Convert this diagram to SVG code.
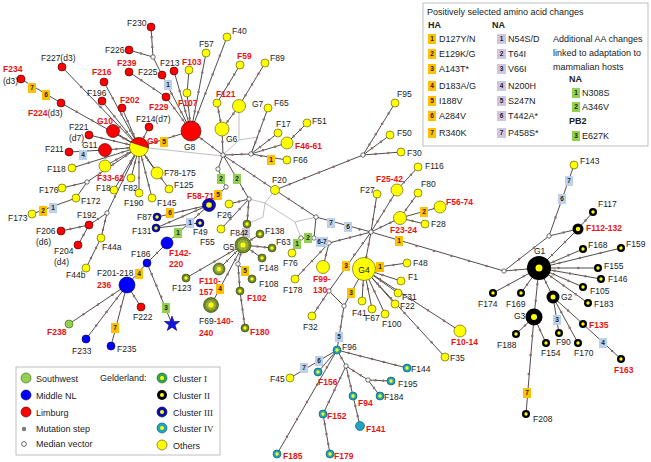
<svg xmlns="http://www.w3.org/2000/svg" width="651" height="462" viewBox="0 0 651 462">
<style>
text{font-family:"Liberation Sans",Arial,sans-serif;font-size:8.5px;fill:#1a1a1a}
.rl{fill:#ee1111;font-weight:bold}
.bold{font-weight:bold}
.ser{font-family:"Liberation Serif","Times New Roman",serif}
.e path{stroke:#3a3a3a;stroke-width:.9;fill:none}
.g path{stroke:#b8b8b8;stroke-width:.9;fill:none}
.m path{stroke:#8c6c62;stroke-width:2.5;stroke-linecap:round;stroke-dasharray:0 1;fill:none}
.y{fill:#ffff00;stroke:#4d4d00;stroke-width:.6}
.r{fill:#ff0000;stroke:#3d0000;stroke-width:.6}
.b{fill:#0000ff;stroke:#000050;stroke-width:.6}
.sw{fill:#92d050;stroke:#3a5a1a;stroke-width:.6}
.c1{fill:#6f8a27;stroke:#2f3a10;stroke-width:.6}
.c1m{fill:#9aad3c}
.c1l{fill:#2fa84a;stroke:#1a5a25;stroke-width:.6}
.c2{fill:#000}
.c3{fill:#0a0ab4;stroke:#000050;stroke-width:.6}
.c4{fill:#1ea5c3;stroke:#0a4a58;stroke-width:.6}
.ctr{fill:#ffff00}
.mv{fill:#fff;stroke:#333;stroke-width:.7}
.bo{fill:#ffc000}.bb{fill:#bdd0e9}.bg{fill:#92d050}.bp{fill:#cfc5df}
.bt{font-size:6.5px;font-weight:bold;text-anchor:middle;fill:#222}
.lt{font-size:9px;fill:#222}
</style>

<g id="connectors">
<g id="reticulations" class="g">
<path d="M139,147L223,156"/>
<path d="M239,112L239,140L223,155"/>
<path d="M239,140L258,137L251,154"/>
<path d="M275,190L265,203L249,199"/>
<path d="M265,203L263,217L247,224"/>
<path d="M265,203L295,222L316,217"/>
<path d="M295,222L301,238"/>
</g>
<g id="edges" class="e">
<path d="M151,27L153,57"/><path d="M129,50L153,57"/><path d="M153,57L162,75"/><path d="M162,75L191,131"/>
<path d="M174,71L191,131"/><path d="M189,70L187,93"/><path d="M187,93L191,131"/><path d="M129,72L166,97"/>
<path d="M166,97L191,131"/><path d="M206,53L191,131"/><path d="M227,37L191,131"/><path d="M191,131L139,147"/>
<path d="M191,131L223,155"/><path d="M62,67L139,147"/><path d="M104,82L139,147"/><path d="M102,101L139,147"/>
<path d="M122,108L139,147"/><path d="M149,127L139,147"/><path d="M113,131L139,147"/><path d="M89,135L139,147"/>
<path d="M21,79L61,103"/><path d="M61,103L139,147"/><path d="M69,152L105,150"/><path d="M105,150L139,147"/>
<path d="M72,168L139,147"/><path d="M105,166L139,147"/><path d="M62,188L87,182"/><path d="M87,182L139,147"/>
<path d="M76,198L87,182"/><path d="M32,214L76,198"/><path d="M114,190L139,147"/><path d="M131,178L139,147"/>
<path d="M139,193L139,147"/><path d="M152,198L139,147"/><path d="M157,173L139,147"/><path d="M169,189L139,147"/>
<path d="M139,147L107,213"/><path d="M107,213L89,225"/><path d="M89,225L61,231"/><path d="M89,225L78,245"/>
<path d="M107,213L101,238"/><path d="M101,238L86,268"/>
<path d="M217,103L222,129"/><path d="M240,65L217,103"/><path d="M239,106L222,129"/><path d="M265,63L239,106"/>
<path d="M222,129L223,155"/><path d="M223,155L251,154"/><path d="M251,154L268,108"/><path d="M251,154L278,133"/>
<path d="M251,154L287,143"/><path d="M287,143L307,123"/><path d="M251,154L287,160"/><path d="M223,155L275,190"/>
<path d="M275,190L363,155"/><path d="M363,155L395,103"/><path d="M363,155L390,135"/><path d="M363,155L401,152"/>
<path d="M223,155L218,169L226,187"/><path d="M226,187L209,205"/><path d="M223,155L249,199"/>
<path d="M249,199L229,204"/><path d="M249,199L221,229"/><path d="M249,199L247,224"/>
<path d="M157,217L209,205"/><path d="M156,228L209,205"/><path d="M156,228L200,223"/><path d="M167,243L209,205"/>
<path d="M167,243L147,263"/><path d="M147,263L127,285"/><path d="M147,263L172,324"/>
<path d="M127,285L69,324"/><path d="M127,285L86,339"/><path d="M127,285L111,346"/><path d="M127,285L141,307"/>
<path d="M247,224L243,245"/><path d="M260,234L243,245"/><path d="M272,248L243,245"/><path d="M262,258L243,245"/>
<path d="M243,245L238,264"/><path d="M238,264L252,279"/><path d="M238,264L240,291"/><path d="M240,291L245,328"/>
<path d="M243,245L219,269"/><path d="M243,245L211,305"/><path d="M243,245L186,278"/>
<path d="M275,190L316,217"/><path d="M316,217L371,232"/><path d="M316,217L314,238"/><path d="M314,238L301,238"/>
<path d="M301,238L292,253"/><path d="M314,238L329,243"/><path d="M329,243L371,232"/><path d="M329,243L295,279"/>
<path d="M329,243L323,267"/><path d="M371,232L377,194"/><path d="M371,232L397,190"/><path d="M397,190L418,167"/>
<path d="M371,232L400,218"/><path d="M400,218L418,193"/><path d="M400,218L440,207"/><path d="M400,218L425,224"/>
<path d="M371,232L504,271"/><path d="M371,232L364,269"/><path d="M364,269L407,263"/><path d="M364,269L401,281"/>
<path d="M364,269L398,293"/><path d="M364,269L395,304"/><path d="M364,269L362,301"/><path d="M364,269L372,309"/>
<path d="M364,269L385,314"/><path d="M364,269L460,331"/><path d="M364,269L445,357"/><path d="M371,232L329,291"/>
<path d="M329,291L312,316"/><path d="M329,291L344,306"/><path d="M364,269L344,306"/><path d="M344,306L337,350"/>
<path d="M337,350L290,378"/><path d="M337,350L318,372"/><path d="M337,350L277,454"/><path d="M337,350L346,366"/>
<path d="M346,366L323,414"/><path d="M323,414L330,454"/><path d="M346,366L353,396"/><path d="M353,396L360,426"/>
<path d="M346,366L368,380"/><path d="M368,380L391,381"/><path d="M368,380L380,396"/><path d="M337,350L407,368"/>
<path d="M504,271L539,268"/><path d="M504,271L549,236"/><path d="M549,236L574,165"/><path d="M549,236L578,229"/>
<path d="M539,268L578,229"/><path d="M578,229L593,212"/><path d="M539,268L583,249"/><path d="M539,268L621,248"/>
<path d="M539,268L598,268"/><path d="M539,268L601,279"/><path d="M539,268L583,287"/><path d="M539,268L588,303"/>
<path d="M539,268L553,297"/><path d="M539,268L493,293"/><path d="M539,268L521,293"/><path d="M539,268L534,317"/>
<path d="M534,317L516,334"/><path d="M534,317L546,343"/><path d="M534,317L526,414"/><path d="M553,297L559,333"/>
<path d="M553,297L578,343"/><path d="M553,297L583,324"/><path d="M583,324L621,359"/>
</g>
<g id="mutation-steps" class="m">
<path pathLength="3" d="M151,27L153,57"/><path pathLength="2" d="M129,50L153,57"/><path pathLength="3" d="M162,75L191,131"/>
<path pathLength="3" d="M174,71L191,131"/><path pathLength="3" d="M187,93L191,131"/><path pathLength="3" d="M129,72L166,97"/>
<path pathLength="3" d="M166,97L191,131"/><path pathLength="4" d="M206,53L191,131"/><path pathLength="5" d="M227,37L191,131"/>
<path pathLength="3" d="M191,131L139,147"/><path pathLength="3" d="M191,131L223,155"/><path pathLength="4" d="M62,67L139,147"/>
<path pathLength="4" d="M104,82L139,147"/><path pathLength="3" d="M102,101L139,147"/><path pathLength="3" d="M122,108L139,147"/>
<path pathLength="2" d="M149,127L139,147"/><path pathLength="2" d="M113,131L139,147"/><path pathLength="4" d="M89,135L139,147"/>
<path pathLength="5" d="M61,103L139,147"/><path pathLength="3" d="M105,150L139,147"/><path pathLength="4" d="M72,168L139,147"/>
<path pathLength="3" d="M105,166L139,147"/><path pathLength="2" d="M62,188L87,182"/><path pathLength="4" d="M87,182L139,147"/>
<path pathLength="3" d="M114,190L139,147"/><path pathLength="2" d="M131,178L139,147"/><path pathLength="3" d="M139,193L139,147"/>
<path pathLength="4" d="M152,198L139,147"/><path pathLength="2" d="M157,173L139,147"/><path pathLength="4" d="M169,189L139,147"/>
<path pathLength="4" d="M139,147L107,213"/><path pathLength="2" d="M107,213L89,225"/><path pathLength="3" d="M89,225L61,231"/>
<path pathLength="2" d="M89,225L78,245"/><path pathLength="3" d="M107,213L101,238"/><path pathLength="3" d="M101,238L86,268"/>
<path pathLength="3" d="M217,103L222,129"/><path pathLength="4" d="M240,65L217,103"/><path pathLength="3" d="M239,106L222,129"/>
<path pathLength="4" d="M265,63L239,106"/><path pathLength="2" d="M222,129L223,155"/><path pathLength="3" d="M223,155L251,154"/>
<path pathLength="4" d="M251,154L268,108"/><path pathLength="3" d="M251,154L278,133"/><path pathLength="3" d="M251,154L287,143"/>
<path pathLength="3" d="M287,143L307,123"/><path pathLength="2" d="M251,154L271,158"/><path pathLength="5" d="M223,155L275,190"/>
<path pathLength="6" d="M275,190L363,155"/><path pathLength="5" d="M363,155L395,103"/><path pathLength="3" d="M363,155L390,135"/>
<path pathLength="3" d="M363,155L401,152"/><path pathLength="2" d="M237,179L249,199"/><path pathLength="2" d="M249,199L229,204"/>
<path pathLength="3" d="M249,199L221,229"/><path pathLength="3" d="M249,199L247,224"/><path pathLength="3" d="M170,214L209,205"/>
<path pathLength="4" d="M156,228L209,205"/><path pathLength="3" d="M178,233L209,205"/><path pathLength="2" d="M167,243L147,263"/>
<path pathLength="4" d="M147,263L166,308"/><path pathLength="4" d="M127,285L69,324"/><path pathLength="4" d="M127,285L86,339"/>
<path pathLength="2" d="M127,285L115,328"/><path pathLength="2" d="M127,285L141,307"/>
<path pathLength="2" d="M260,234L243,245"/><path pathLength="4" d="M272,248L243,245"/><path pathLength="2" d="M262,258L243,245"/>
<path pathLength="2" d="M243,245L238,264"/><path pathLength="3" d="M238,264L240,291"/><path pathLength="4" d="M240,291L245,328"/>
<path pathLength="3" d="M243,245L219,269"/><path pathLength="3" d="M243,245L220,289"/><path pathLength="4" d="M243,245L186,278"/>
<path pathLength="3" d="M275,190L316,217"/><path pathLength="2" d="M348,227L371,232"/><path pathLength="4" d="M329,243L371,232"/>
<path pathLength="4" d="M329,243L295,279"/><path pathLength="2" d="M329,243L323,267"/><path pathLength="3" d="M371,232L377,194"/>
<path pathLength="4" d="M371,232L397,190"/><path pathLength="3" d="M397,190L418,167"/><path pathLength="3" d="M371,232L400,218"/>
<path pathLength="3" d="M400,218L418,193"/><path pathLength="2" d="M400,218L425,224"/><path pathLength="6" d="M399,241L504,271"/>
<path pathLength="3" d="M371,232L364,269"/><path pathLength="2" d="M380,267L407,263"/><path pathLength="2" d="M364,269L401,281"/>
<path pathLength="2" d="M364,269L398,293"/><path pathLength="2" d="M364,269L395,304"/><path pathLength="2" d="M364,269L362,301"/>
<path pathLength="2" d="M364,269L372,309"/><path pathLength="2" d="M364,269L385,314"/><path pathLength="6" d="M364,269L460,331"/>
<path pathLength="6" d="M364,269L445,357"/><path pathLength="3" d="M371,232L346,266"/><path pathLength="3" d="M329,291L312,316"/>
<path pathLength="3" d="M344,306L339,337"/><path pathLength="6" d="M337,350L277,454"/><path pathLength="2" d="M337,350L346,366"/>
<path pathLength="4" d="M346,366L323,414"/><path pathLength="4" d="M323,414L330,454"/><path pathLength="3" d="M346,366L353,396"/>
<path pathLength="3" d="M353,396L360,426"/><path pathLength="3" d="M346,366L368,380"/><path pathLength="3" d="M368,380L391,381"/>
<path pathLength="2" d="M368,380L380,396"/><path pathLength="6" d="M337,350L407,368"/>
<path pathLength="3" d="M504,271L539,268"/><path pathLength="3" d="M504,271L549,236"/><path pathLength="2" d="M549,236L562,199"/>
<path pathLength="2" d="M549,236L578,229"/><path pathLength="3" d="M539,268L578,229"/><path pathLength="2" d="M578,229L593,212"/>
<path pathLength="3" d="M539,268L583,249"/><path pathLength="4" d="M539,268L621,248"/><path pathLength="3" d="M539,268L598,268"/>
<path pathLength="4" d="M539,268L601,279"/><path pathLength="3" d="M539,268L583,287"/><path pathLength="4" d="M539,268L588,303"/>
<path pathLength="2" d="M539,268L553,297"/><path pathLength="3" d="M539,268L493,293"/><path pathLength="3" d="M539,268L521,293"/>
<path pathLength="3" d="M539,268L534,317"/><path pathLength="2" d="M534,317L516,334"/><path pathLength="2" d="M534,317L546,343"/>
<path pathLength="4" d="M534,317L527,393"/><path pathLength="3" d="M553,297L578,343"/><path pathLength="2" d="M553,297L583,324"/>
<path pathLength="2" d="M603,343L621,359"/>
</g>
</g>

<g id="median-vectors">
<circle class="mv" cx="153" cy="57" r="2.2"/><circle class="mv" cx="87" cy="182" r="2.2"/><circle class="mv" cx="107" cy="213" r="2.2"/>
<circle class="mv" cx="223" cy="155" r="2.2"/><circle class="mv" cx="251" cy="154" r="2.2"/><circle class="mv" cx="363" cy="155" r="2.2"/>
<circle class="mv" cx="218" cy="169" r="2.2"/><circle class="mv" cx="226" cy="187" r="2.2"/><circle class="mv" cx="249" cy="199" r="2.2"/>
<circle class="mv" cx="238" cy="264" r="2.2"/><circle class="mv" cx="316" cy="217" r="2.2"/><circle class="mv" cx="301" cy="238" r="2.2"/>
<circle class="mv" cx="314" cy="238" r="2.2"/><circle class="mv" cx="329" cy="243" r="2.2"/><circle class="mv" cx="371" cy="232" r="2.2"/>
<circle class="mv" cx="329" cy="291" r="2.2"/><circle class="mv" cx="344" cy="306" r="2.2"/><circle class="mv" cx="346" cy="366" r="2.2"/>
<circle class="mv" cx="368" cy="380" r="2.2"/><circle class="mv" cx="504" cy="271" r="2.2"/><circle class="mv" cx="549" cy="236" r="2.2"/>
</g>

<g id="mutation-labels">
<rect class="bo" x="160" y="137" width="8" height="10"/><text class="bt" x="164" y="144.3">5</text>
<rect class="bo" x="28" y="83" width="8" height="10"/><text class="bt" x="32" y="90.3">7</text>
<rect class="bo" x="42" y="90" width="8" height="10"/><text class="bt" x="46" y="97.3">6</text>
<rect class="bo" x="39" y="206" width="8" height="10"/><text class="bt" x="43" y="213.3">2</text>
<rect class="bo" x="267" y="155" width="8" height="10"/><text class="bt" x="271" y="162.3">1</text>
<rect class="bo" x="214" y="190" width="8" height="10"/><text class="bt" x="218" y="197.3">5</text>
<rect class="bo" x="166" y="208" width="8" height="10"/><text class="bt" x="170" y="215.3">6</text>
<rect class="bo" x="135" y="269" width="8" height="10"/><text class="bt" x="139" y="276.3">4</text>
<rect class="bo" x="111" y="323" width="8" height="10"/><text class="bt" x="115" y="330.3">7</text>
<rect class="bo" x="241" y="266" width="8" height="10"/><text class="bt" x="245" y="273.3">5</text>
<rect class="bo" x="216" y="284" width="8" height="10"/><text class="bt" x="220" y="291.3">4</text>
<rect class="bo" x="420" y="207" width="8" height="10"/><text class="bt" x="424" y="214.3">2</text>
<rect class="bo" x="395" y="236" width="8" height="10"/><text class="bt" x="399" y="243.3">1</text>
<rect class="bo" x="342" y="261" width="8" height="10"/><text class="bt" x="346" y="268.3">3</text>
<rect class="bo" x="376" y="262" width="8" height="10"/><text class="bt" x="380" y="269.3">1</text>
<rect class="bo" x="347" y="288" width="8" height="10"/><text class="bt" x="351" y="295.3">3</text>
<rect class="bo" x="523" y="388" width="8" height="10"/><text class="bt" x="527" y="395.3">7</text>
<rect class="bb" x="164" y="80" width="8" height="10"/><text class="bt" x="168" y="87.3">1</text>
<rect class="bb" x="79" y="150" width="8" height="10"/><text class="bt" x="83" y="157.3">4</text>
<rect class="bb" x="49" y="203" width="8" height="10"/><text class="bt" x="53" y="210.3">1</text>
<rect class="bb" x="186" y="218" width="8" height="10"/><text class="bt" x="190" y="225.3">1</text>
<rect class="bb" x="327" y="218" width="8" height="10"/><text class="bt" x="331" y="225.3">7</text>
<rect class="bb" x="344" y="222" width="8" height="10"/><text class="bt" x="348" y="229.3">6</text>
<rect class="bb" x="316" y="237" width="12" height="10"/><text class="bt" x="322" y="244.3">6-7</text>
<rect class="bb" x="335" y="332" width="8" height="10"/><text class="bt" x="339" y="339.3">5</text>
<rect class="bb" x="315" y="356" width="8" height="10"/><text class="bt" x="319" y="363.3">6</text>
<rect class="bb" x="300" y="363" width="8" height="10"/><text class="bt" x="304" y="370.3">7</text>
<rect class="bb" x="558" y="194" width="8" height="10"/><text class="bt" x="562" y="201.3">6</text>
<rect class="bb" x="565" y="176" width="8" height="10"/><text class="bt" x="569" y="183.3">7</text>
<rect class="bb" x="553" y="315" width="8" height="10"/><text class="bt" x="557" y="322.3">3</text>
<rect class="bb" x="599" y="338" width="8" height="10"/><text class="bt" x="603" y="345.3">4</text>
<rect class="bg" x="217" y="174" width="8" height="10"/><text class="bt" x="221" y="181.3">2</text>
<rect class="bg" x="233" y="174" width="8" height="10"/><text class="bt" x="237" y="181.3">2</text>
<rect class="bg" x="174" y="228" width="8" height="10"/><text class="bt" x="178" y="235.3">1</text>
<rect class="bg" x="162" y="303" width="8" height="10"/><text class="bt" x="166" y="310.3">3</text>
<rect class="bg" x="293" y="239" width="8" height="10"/><text class="bt" x="297" y="246.3">1</text>
<rect class="bg" x="304" y="233" width="8" height="10"/><text class="bt" x="308" y="240.3">2</text>
<rect class="bp" x="242" y="228" width="8" height="10"/><text class="bt" x="246" y="235.3">2</text>
</g>

<g id="nodes">
<g id="F230"><circle class="r" cx="151" cy="27" r="4"/><text x="127" y="26">F230</text></g>
<g id="F226"><circle class="r" cx="129" cy="50" r="4"/><text x="105" y="53">F226</text></g>
<g id="F225"><circle class="r" cx="162" cy="75" r="4"/><text x="138" y="75">F225</text></g>
<g id="F213"><circle class="r" cx="174" cy="71" r="4"/><text x="160" y="66">F213</text></g>
<g id="F239"><circle class="r" cx="129" cy="72" r="4"/><text class="rl" x="117" y="66">F239</text></g>
<g id="F229"><circle class="r" cx="166" cy="97" r="4"/><text class="rl" x="149" y="110">F229</text></g>
<g id="F103"><circle class="y" cx="189" cy="70" r="4"/><text class="rl" x="182" y="65">F103</text></g>
<g id="F107"><circle class="y" cx="187" cy="93" r="4"/><text class="rl" x="178" y="106">F107</text></g>
<g id="F57"><circle class="y" cx="206" cy="53" r="4"/><text x="199" y="47">F57</text></g>
<g id="F40"><circle class="y" cx="227" cy="37" r="4"/><text x="232" y="34">F40</text></g>
<g id="G8"><circle class="r" cx="191" cy="131" r="10"/><text x="184" y="150">G8</text></g>
<g id="G9"><circle class="y" cx="139" cy="147" r="9.5"/><path d="M130.8,142.2A9.5,9.5 0 0 1 148.4,148Z" fill="#ff0000" stroke="#3d0000" stroke-width=".5"/><text class="rl" x="147" y="144">G9</text></g>
<g id="G10"><circle class="r" cx="113" cy="131" r="6.5"/><text class="rl" x="97" y="124">G10</text></g>
<g id="F202"><circle class="r" cx="122" cy="108" r="4"/><text class="rl" x="120" y="103">F202</text></g>
<g id="F216"><circle class="r" cx="104" cy="82" r="4"/><text class="rl" x="92" y="75">F216</text></g>
<g id="F196"><circle class="r" cx="102" cy="101" r="4"/><text x="87" y="96">F196</text></g>
<g id="F227"><circle class="r" cx="62" cy="67" r="4"/><text x="41" y="61">F227(d3)</text></g>
<g id="F234"><circle class="r" cx="21" cy="79" r="4"/><text class="rl" x="3" y="72">F234</text><text x="3" y="84">(d3)</text></g>
<g id="F224"><circle class="r" cx="61" cy="103" r="4"/><text x="28" y="116"><tspan class="rl">F224</tspan>(d3)</text></g>
<g id="F214"><circle class="r" cx="149" cy="127" r="4"/><text x="136" y="122">F214(d7)</text></g>
<g id="F221"><circle class="r" cx="89" cy="135" r="4"/><text x="69" y="130">F221</text><text x="69" y="141">(d7)</text></g>
<g id="G11"><circle class="r" cx="105" cy="150" r="6.5"/><text x="82" y="148">G11</text></g>
<g id="F211"><circle class="r" cx="69" cy="152" r="4"/><text x="45" y="152">F211</text></g>
<g id="F118"><circle class="y" cx="72" cy="168" r="4"/><text x="47" y="172">F118</text></g>
<g id="F33-62"><circle class="y" cx="105" cy="166" r="6"/><text class="rl" x="97" y="181">F33-62</text></g>
<g id="F176"><circle class="y" cx="62" cy="188" r="4"/><text x="39" y="193">F176</text></g>
<g id="F172"><circle class="y" cx="76" cy="198" r="4"/><text x="81" y="204">F172</text></g>
<g id="F173"><circle class="y" cx="32" cy="214" r="4"/><text x="8" y="221">F173</text></g>
<g id="F18"><circle class="y" cx="114" cy="190" r="4"/><text x="96" y="191">F18</text></g>
<g id="F82"><circle class="y" cx="131" cy="178" r="4"/><text x="123" y="191">F82</text></g>
<g id="F190"><circle class="y" cx="139" cy="193" r="4"/><text x="124" y="206">F190</text></g>
<g id="F145"><circle class="y" cx="152" cy="198" r="4"/><text x="157" y="206">F145</text></g>
<g id="F78-175"><circle class="y" cx="157" cy="173" r="6"/><text x="164" y="176">F78-175</text></g>
<g id="F125"><circle class="y" cx="169" cy="189" r="4"/><text x="174" y="188">F125</text></g>
<g id="F192"><circle class="r" cx="89" cy="225" r="4"/><text x="77" y="218">F192</text></g>
<g id="F206"><circle class="r" cx="61" cy="231" r="4"/><text x="36" y="234">F206</text><text x="36" y="245">(d6)</text></g>
<g id="F204"><circle class="r" cx="78" cy="245" r="4"/><text x="54" y="254">F204</text><text x="54" y="265">(d4)</text></g>
<g id="F44a"><circle class="y" cx="101" cy="238" r="4"/><text x="102" y="250">F44a</text></g>
<g id="F44b"><circle class="y" cx="86" cy="268" r="4"/><text x="66" y="278">F44b</text></g>
<g id="F59"><circle class="y" cx="240" cy="65" r="4"/><text class="rl" x="237" y="59">F59</text></g>
<g id="F89"><circle class="y" cx="265" cy="63" r="4"/><text x="270" y="61">F89</text></g>
<g id="F121"><circle class="y" cx="217" cy="103" r="4"/><text class="rl" x="216" y="97">F121</text></g>
<g id="G7"><circle class="y" cx="239" cy="106" r="6.5"/><text x="252" y="107">G7</text></g>
<g id="F65"><circle class="y" cx="268" cy="108" r="4"/><text x="274" y="106">F65</text></g>
<g id="G6"><circle class="y" cx="222" cy="129" r="7"/><text x="226" y="142">G6</text></g>
<g id="F17"><circle class="y" cx="278" cy="133" r="4"/><text x="276" y="127">F17</text></g>
<g id="F51"><circle class="y" cx="307" cy="123" r="4"/><text x="312" y="124">F51</text></g>
<g id="F46-61"><circle class="y" cx="287" cy="143" r="6"/><text class="rl" x="295" y="149">F46-61</text></g>
<g id="F66"><circle class="y" cx="287" cy="160" r="4"/><text x="293" y="163">F66</text></g>
<g id="F95"><circle class="y" cx="395" cy="103" r="4"/><text x="397" y="97">F95</text></g>
<g id="F50"><circle class="y" cx="390" cy="135" r="4"/><text x="397" y="136">F50</text></g>
<g id="F30"><circle class="y" cx="401" cy="152" r="4"/><text x="407" y="156">F30</text></g>
<g id="F20"><circle class="y" cx="275" cy="190" r="4.5"/><text x="272" y="183">F20</text></g>
<g id="F58-71"><circle class="c3" cx="209" cy="205" r="6.5"/><circle class="ctr" cx="209" cy="205" r="2.8"/><text class="rl" x="187" y="199">F58-71</text></g>
<g id="F87"><circle class="c3" cx="157" cy="217" r="4"/><circle class="ctr" cx="157" cy="217" r="1.7"/><text x="137" y="220">F87</text></g>
<g id="F131"><circle class="c3" cx="156" cy="228" r="4"/><circle class="ctr" cx="156" cy="228" r="1.7"/><text x="132" y="234">F131</text></g>
<g id="F49"><circle class="c3" cx="200" cy="223" r="4"/><circle class="ctr" cx="200" cy="223" r="1.7"/><text x="193" y="235">F49</text></g>
<g id="F55"><circle class="y" cx="221" cy="229" r="4"/><text x="200" y="245">F55</text></g>
<g id="F26"><circle class="y" cx="229" cy="204" r="4"/><text x="217" y="218">F26</text></g>
<g id="F142-220"><circle class="b" cx="167" cy="243" r="6"/><text class="rl" x="169" y="256">F142-</text><text class="rl" x="169" y="267">220</text></g>
<g id="F186"><circle class="b" cx="147" cy="263" r="4"/><text x="131" y="257">F186</text></g>
<g id="F201-218"><circle class="b" cx="127" cy="285" r="8"/><text x="97" y="276">F201-218</text><text class="rl" x="97" y="288">236</text></g>
<g id="F238"><circle class="sw" cx="69" cy="324" r="4"/><text class="rl" x="47" y="335">F238</text></g>
<g id="F233"><circle class="b" cx="86" cy="339" r="4"/><text x="72" y="354">F233</text></g>
<g id="F235"><circle class="b" cx="111" cy="346" r="4"/><text x="117" y="352">F235</text></g>
<g id="F222"><circle class="r" cx="141" cy="307" r="4"/><text x="133" y="320">F222</text></g>
<g id="star"><polygon points="172,316 173.9,321.4 179.6,321.5 175,325 176.7,330.5 172,327.2 167.3,330.5 169,325 164.4,321.5 170.1,321.4" fill="#1515e0" stroke="#000060" stroke-width=".6"/></g>
<g id="F84"><circle class="c1" cx="247" cy="224" r="4"/><circle class="ctr" cx="247" cy="224" r="1.7"/><text x="230" y="236">F84</text></g>
<g id="F138"><circle class="c1" cx="260" cy="234" r="4"/><circle class="ctr" cx="260" cy="234" r="1.7"/><text x="265" y="234">F138</text></g>
<g id="G5"><circle class="c1" cx="243" cy="245" r="8"/><circle class="c1m" cx="243" cy="245" r="5.5"/><circle class="ctr" cx="243" cy="245" r="2.6"/><text x="223" y="250">G5</text></g>
<g id="F63"><circle class="c1" cx="272" cy="248" r="4"/><circle class="ctr" cx="272" cy="248" r="1.7"/><text x="276" y="245">F63</text></g>
<g id="F148"><circle class="c1" cx="262" cy="258" r="4"/><circle class="ctr" cx="262" cy="258" r="1.7"/><text x="259" y="271">F148</text></g>
<g id="F108"><circle class="c1" cx="252" cy="279" r="4"/><circle class="ctr" cx="252" cy="279" r="1.7"/><text x="259" y="287">F108</text></g>
<g id="F102"><circle class="c1" cx="240" cy="291" r="4"/><circle class="ctr" cx="240" cy="291" r="1.7"/><text class="rl" x="247" y="301">F102</text></g>
<g id="F180"><circle class="c1" cx="245" cy="328" r="4"/><circle class="ctr" cx="245" cy="328" r="1.7"/><text class="rl" x="250" y="335">F180</text></g>
<g id="F110-157"><circle class="c1" cx="219" cy="269" r="6"/><circle class="c1m" cx="219" cy="269" r="4"/><circle class="ctr" cx="219" cy="269" r="2.2"/><text class="rl" x="199" y="284">F110-</text><text class="rl" x="199" y="295">157</text></g>
<g id="F69-140-240"><circle class="c1" cx="211" cy="305" r="7.5"/><circle class="c1m" cx="211" cy="305" r="5"/><circle class="ctr" cx="211" cy="305" r="2.6"/><text x="199" y="324">F69-<tspan class="rl">140-</tspan></text><text class="rl" x="199" y="336">240</text></g>
<g id="F123"><circle class="c1" cx="186" cy="278" r="4"/><circle class="ctr" cx="186" cy="278" r="1.7"/><text x="172" y="291">F123</text></g>
<g id="F76"><circle class="y" cx="292" cy="253" r="4"/><text x="283" y="266">F76</text></g>
<g id="F178"><circle class="y" cx="295" cy="279" r="4"/><text x="283" y="293">F178</text></g>
<g id="F99-130"><circle class="y" cx="323" cy="267" r="6.5"/><text class="rl" x="313" y="282">F99-</text><text class="rl" x="313" y="293">130</text></g>
<g id="F27"><circle class="y" cx="377" cy="194" r="4"/><text x="360" y="193">F27</text></g>
<g id="F25-42"><circle class="y" cx="397" cy="190" r="6"/><text class="rl" x="376" y="182">F25-42</text></g>
<g id="F23-24"><circle class="y" cx="400" cy="218" r="6.5"/><text class="rl" x="390" y="233">F23-24</text></g>
<g id="F116"><circle class="y" cx="418" cy="167" r="4"/><text x="425" y="169">F116</text></g>
<g id="F80"><circle class="y" cx="418" cy="193" r="4"/><text x="421" y="187">F80</text></g>
<g id="F56-74"><circle class="y" cx="440" cy="207" r="6"/><text class="rl" x="446" y="205">F56-74</text></g>
<g id="F28"><circle class="y" cx="425" cy="224" r="4"/><text x="431" y="227">F28</text></g>
<g id="G4"><circle class="y" cx="364" cy="269" r="11.5"/><text x="364" y="273" text-anchor="middle" font-size="10">G4</text></g>
<g id="F48"><circle class="y" cx="407" cy="263" r="4"/><text x="413" y="266">F48</text></g>
<g id="F1"><circle class="y" cx="401" cy="281" r="4"/><text x="408" y="280">F1</text></g>
<g id="F31"><circle class="y" cx="398" cy="293" r="4"/><text x="402" y="300">F31</text></g>
<g id="F22"><circle class="y" cx="395" cy="304" r="4"/><text x="400" y="309">F22</text></g>
<g id="F41"><circle class="y" cx="362" cy="301" r="4"/><text x="352" y="316">F41</text></g>
<g id="F67"><circle class="y" cx="372" cy="309" r="4"/><text x="365" y="321">F67</text></g>
<g id="F100"><circle class="y" cx="385" cy="314" r="4"/><text x="382" y="327">F100</text></g>
<g id="F10-14"><circle class="y" cx="460" cy="331" r="6"/><text class="rl" x="451" y="345">F10-14</text></g>
<g id="F35"><circle class="y" cx="445" cy="357" r="4"/><text x="450" y="361">F35</text></g>
<g id="F32"><circle class="y" cx="312" cy="316" r="4"/><text x="303" y="330">F32</text></g>
<g id="F45"><circle class="y" cx="290" cy="378" r="4"/><text x="270" y="382">F45</text></g>
<g id="F96"><circle class="c4" cx="337" cy="350" r="4"/><circle class="ctr" cx="337" cy="350" r="1.7"/><text x="342" y="350">F96</text></g>
<g id="F156"><circle class="c4" cx="318" cy="372" r="4"/><circle class="ctr" cx="318" cy="372" r="1.7"/><text class="rl" x="318" y="385">F156</text></g>
<g id="F144"><circle class="c4" cx="407" cy="368" r="4"/><circle class="ctr" cx="407" cy="368" r="1.7"/><text x="411" y="372">F144</text></g>
<g id="F195"><circle class="c4" cx="391" cy="381" r="4"/><circle class="ctr" cx="391" cy="381" r="1.7"/><text x="398" y="387">F195</text></g>
<g id="F184"><circle class="c4" cx="380" cy="396" r="4"/><circle class="ctr" cx="380" cy="396" r="1.7"/><text x="384" y="400">F184</text></g>
<g id="F94"><circle class="c4" cx="353" cy="396" r="4"/><circle class="ctr" cx="353" cy="396" r="1.7"/><text class="rl" x="358" y="406">F94</text></g>
<g id="F141"><circle class="c4" cx="360" cy="426" r="4.5"/><text class="rl" x="366" y="432">F141</text></g>
<g id="F152"><circle class="c4" cx="323" cy="414" r="4"/><circle class="ctr" cx="323" cy="414" r="1.7"/><text class="rl" x="327" y="419">F152</text></g>
<g id="F185"><circle class="c4" cx="277" cy="454" r="4"/><circle class="ctr" cx="277" cy="454" r="1.7"/><text class="rl" x="283" y="459">F185</text></g>
<g id="F179"><circle class="c4" cx="330" cy="454" r="4"/><circle class="ctr" cx="330" cy="454" r="1.7"/><text class="rl" x="334" y="459">F179</text></g>
<g id="F143"><circle class="y" cx="574" cy="165" r="4"/><text x="580" y="164">F143</text></g>
<g id="G1"><circle class="c2" cx="539" cy="268" r="12"/><circle class="ctr" cx="539" cy="268" r="3.5"/><text x="534" y="254">G1</text></g>
<g id="F117"><circle class="c2" cx="593" cy="212" r="4"/><circle class="ctr" cx="593" cy="212" r="1.7"/><text x="598" y="207">F117</text></g>
<g id="F112-132"><circle class="c2" cx="578" cy="229" r="5.5"/><circle class="ctr" cx="578" cy="229" r="2.2"/><text class="rl" x="586" y="231">F112-132</text></g>
<g id="F168"><circle class="c2" cx="583" cy="249" r="4"/><circle class="ctr" cx="583" cy="249" r="1.7"/><text x="588" y="248">F168</text></g>
<g id="F159"><circle class="c2" cx="621" cy="248" r="4"/><circle class="ctr" cx="621" cy="248" r="1.7"/><text x="626" y="247">F159</text></g>
<g id="F155"><circle class="c2" cx="598" cy="268" r="4"/><circle class="ctr" cx="598" cy="268" r="1.7"/><text x="604" y="269">F155</text></g>
<g id="F146"><circle class="c2" cx="601" cy="279" r="4"/><circle class="ctr" cx="601" cy="279" r="1.7"/><text x="608" y="282">F146</text></g>
<g id="F105"><circle class="c2" cx="583" cy="287" r="4"/><circle class="ctr" cx="583" cy="287" r="1.7"/><text x="590" y="294">F105</text></g>
<g id="F183"><circle class="c2" cx="588" cy="303" r="4"/><circle class="ctr" cx="588" cy="303" r="1.7"/><text x="594" y="307">F183</text></g>
<g id="G2"><circle class="c2" cx="553" cy="297" r="6.5"/><circle class="ctr" cx="553" cy="297" r="2.5"/><text x="561" y="300">G2</text></g>
<g id="F174"><circle class="c2" cx="493" cy="293" r="4"/><circle class="ctr" cx="493" cy="293" r="1.7"/><text x="478" y="307">F174</text></g>
<g id="F169"><circle class="c2" cx="521" cy="293" r="4"/><circle class="ctr" cx="521" cy="293" r="1.7"/><text x="506" y="307">F169</text></g>
<g id="G3"><circle class="c2" cx="534" cy="317" r="8.5"/><circle class="ctr" cx="534" cy="317" r="3"/><text x="514" y="319">G3</text></g>
<g id="F188"><circle class="c2" cx="516" cy="334" r="4"/><circle class="ctr" cx="516" cy="334" r="1.7"/><text x="497" y="348">F188</text></g>
<g id="F90"><circle class="c2" cx="559" cy="333" r="4"/><circle class="ctr" cx="559" cy="333" r="1.7"/><text x="556" y="345">F90</text></g>
<g id="F154"><circle class="c2" cx="546" cy="343" r="4"/><circle class="ctr" cx="546" cy="343" r="1.7"/><text x="541" y="356">F154</text></g>
<g id="F170"><circle class="c2" cx="578" cy="343" r="4"/><circle class="ctr" cx="578" cy="343" r="1.7"/><text x="574" y="356">F170</text></g>
<g id="F135"><circle class="c2" cx="583" cy="324" r="4"/><circle class="ctr" cx="583" cy="324" r="1.7"/><text class="rl" x="589" y="328">F135</text></g>
<g id="F163"><circle class="c2" cx="621" cy="359" r="4"/><circle class="ctr" cx="621" cy="359" r="1.7"/><text class="rl" x="614" y="373">F163</text></g>
<g id="F208"><circle class="c2" cx="526" cy="414" r="4"/><circle class="ctr" cx="526" cy="414" r="1.7"/><text x="533" y="422">F208</text></g>
</g>

<g id="legend-aa">
<rect x="423" y="3" width="225" height="143" fill="#fff" stroke="#b0b0b0" stroke-width=".8"/>
<text class="lt" x="427" y="15" font-size="8.5">Positively selected  amino acid changes</text>
<text class="lt bold" x="428" y="28">HA</text><text class="lt bold" x="492" y="28">NA</text>
<rect class="bo" x="428" y="34" width="8" height="10"/><text class="bt" x="432" y="41.3">1</text><text class="lt" x="439" y="42">D127Y/N</text>
<rect class="bo" x="428" y="49" width="8" height="10"/><text class="bt" x="432" y="56.3">2</text><text class="lt" x="439" y="57">E129K/G</text>
<rect class="bo" x="428" y="64" width="8" height="10"/><text class="bt" x="432" y="71.3">3</text><text class="lt" x="439" y="72">A143T*</text>
<rect class="bo" x="428" y="81" width="8" height="10"/><text class="bt" x="432" y="88.3">4</text><text class="lt" x="439" y="89">D183A/G</text>
<rect class="bo" x="428" y="96" width="8" height="10"/><text class="bt" x="432" y="103.3">5</text><text class="lt" x="439" y="104">I188V</text>
<rect class="bo" x="428" y="111" width="8" height="10"/><text class="bt" x="432" y="118.3">6</text><text class="lt" x="439" y="119">A284V</text>
<rect class="bo" x="428" y="128" width="8" height="10"/><text class="bt" x="432" y="135.3">7</text><text class="lt" x="439" y="136">R340K</text>
<rect class="bp" x="497" y="34" width="9" height="10"/><text class="bt" x="501.5" y="41.3">1</text><text class="lt" x="508" y="42">N54S/D</text>
<rect class="bp" x="497" y="49" width="9" height="10"/><text class="bt" x="501.5" y="56.3">2</text><text class="lt" x="508" y="57">T64I</text>
<rect class="bp" x="497" y="64" width="9" height="10"/><text class="bt" x="501.5" y="71.3">3</text><text class="lt" x="508" y="72">V66I</text>
<rect class="bp" x="497" y="81" width="9" height="10"/><text class="bt" x="501.5" y="88.3">4</text><text class="lt" x="508" y="89">N200H</text>
<rect class="bp" x="497" y="96" width="9" height="10"/><text class="bt" x="501.5" y="103.3">5</text><text class="lt" x="508" y="104">S247N</text>
<rect class="bp" x="497" y="111" width="9" height="10"/><text class="bt" x="501.5" y="118.3">6</text><text class="lt" x="508" y="119">T442A*</text>
<rect class="bp" x="497" y="128" width="9" height="10"/><text class="bt" x="501.5" y="135.3">7</text><text class="lt" x="508" y="136">P458S*</text>
<text class="lt" x="553" y="42" font-size="8.5">Additional AA changes</text>
<text class="lt" x="553" y="56" font-size="8.5">linked to  adaptation to</text>
<text class="lt" x="553" y="70" font-size="8.5">mammalian hosts</text>
<text class="lt bold" x="569" y="82">NA</text>
<rect class="bg" x="572" y="88" width="8" height="10"/><text class="bt" x="576" y="95.3">1</text><text class="lt" x="582" y="96">N308S</text>
<rect class="bg" x="572" y="102" width="8" height="10"/><text class="bt" x="576" y="109.3">2</text><text class="lt" x="582" y="110">A346V</text>
<text class="lt bold" x="569" y="124">PB2</text>
<rect class="bg" x="572" y="131" width="8" height="10"/><text class="bt" x="576" y="138.3">3</text><text class="lt" x="582" y="139">E627K</text>
</g>

<g id="legend-regions">
<rect x="16" y="367" width="204" height="88" fill="#fff" stroke="#b0b0b0" stroke-width=".8"/>
<circle class="sw" cx="26" cy="378" r="5"/><text class="lt" x="36" y="382">Southwest</text>
<circle class="b" cx="26" cy="395" r="5"/><text class="lt" x="36" y="399">Middle NL</text>
<circle class="r" cx="26" cy="412" r="5"/><text class="lt" x="36" y="416">Limburg</text>
<circle cx="24" cy="429" r="2.2" fill="#7a7a7a"/><text class="lt" x="36" y="432">Mutation step</text>
<circle class="mv" cx="24" cy="444" r="2.4"/><text class="lt" x="36" y="447">Median vector</text>
<text class="lt" x="100" y="381">Gelderland:</text>
<circle class="c1l" cx="162" cy="378" r="5"/><circle class="ctr" cx="162" cy="378" r="2"/><text class="lt" x="173" y="382">Cluster <tspan class="ser">I</tspan></text>
<circle class="c2" cx="162" cy="395" r="5"/><circle class="ctr" cx="162" cy="395" r="2"/><text class="lt" x="173" y="399">Cluster <tspan class="ser">II</tspan></text>
<circle class="c3" cx="162" cy="412" r="5"/><circle class="ctr" cx="162" cy="412" r="2"/><text class="lt" x="173" y="416">Cluster <tspan class="ser">III</tspan></text>
<circle class="c4" cx="162" cy="428" r="5"/><circle class="ctr" cx="162" cy="428" r="2"/><text class="lt" x="173" y="432">Cluster <tspan class="ser">IV</tspan></text>
<circle class="y" cx="162" cy="445" r="5"/><text class="lt" x="173" y="449">Others</text>
</g>
</svg>
